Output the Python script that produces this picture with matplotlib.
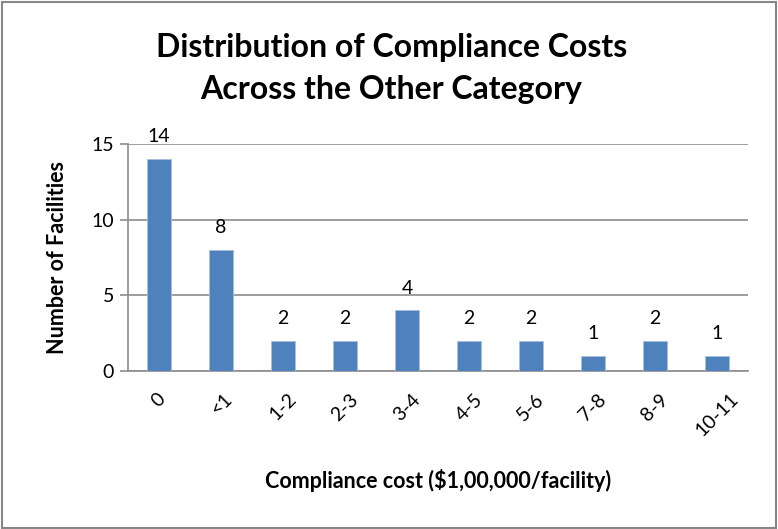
import matplotlib.pyplot as plt
from matplotlib.patches import Rectangle

# data
categories = ["0", "<1", "1-2", "2-3", "3-4", "4-5", "5-6", "7-8", "8-9", "10-11"]
facilities = [14, 8, 2, 2, 4, 2, 2, 1, 2, 1]
y_ticks = [0, 5, 10, 15]

plt.rcParams['font.family'] = ['Lato', 'DejaVu Sans']

fig = plt.figure(figsize=(7.78, 5.29), dpi=100)
ax = fig.add_axes([0.1645, 0.2987, 0.797, 0.4291])

x = range(len(categories))
bars = ax.bar(x, facilities, width=0.4, color='#4F81BD', edgecolor='#A7C0E0', linewidth=0.6, zorder=3)

for b, v in zip(bars, facilities):
    ax.annotate(str(v), (b.get_x() + b.get_width() / 2, v), xytext=(0, 10),
                textcoords='offset points', ha='center', va='bottom', fontsize=14)

ax.set_xlim(-0.5, len(categories) - 0.5)
ax.set_ylim(0, 15)
ax.set_yticks(y_ticks)
ax.yaxis.grid(True, color='#8C8C8C', linewidth=1.2, zorder=0)
ax.set_xticks(list(x))
ax.set_xticklabels(categories, rotation=45, ha='center', va='top', fontsize=14)
ax.tick_params(axis='x', length=0, pad=14)
ax.tick_params(axis='y', length=6, width=1.2, color='#8C8C8C', labelsize=14, pad=4)

for s in ['top', 'right']:
    ax.spines[s].set_visible(False)
ax.spines['left'].set_color('#8C8C8C')
ax.spines['bottom'].set_color('#8C8C8C')
ax.spines['left'].set_linewidth(1.2)
ax.spines['bottom'].set_linewidth(1.2)

ax.set_xlabel("Compliance cost ($1,00,000/facility)", fontsize=15.5, fontweight='bold', labelpad=21)
ax.set_ylabel("Number of Facilities", fontsize=15.5, fontweight='bold', labelpad=17)

fig.text(0.503, 0.871, "Distribution of Compliance Costs\nAcross the Other Category",
         ha='center', va='center', fontsize=23, fontweight='bold', linespacing=1.55)

fig.patches.append(Rectangle((0.002, 0.002), 0.996, 0.995, transform=fig.transFigure,
                             fill=False, edgecolor='#868686', linewidth=1.5))

fig.savefig('out.png', dpi=100)
